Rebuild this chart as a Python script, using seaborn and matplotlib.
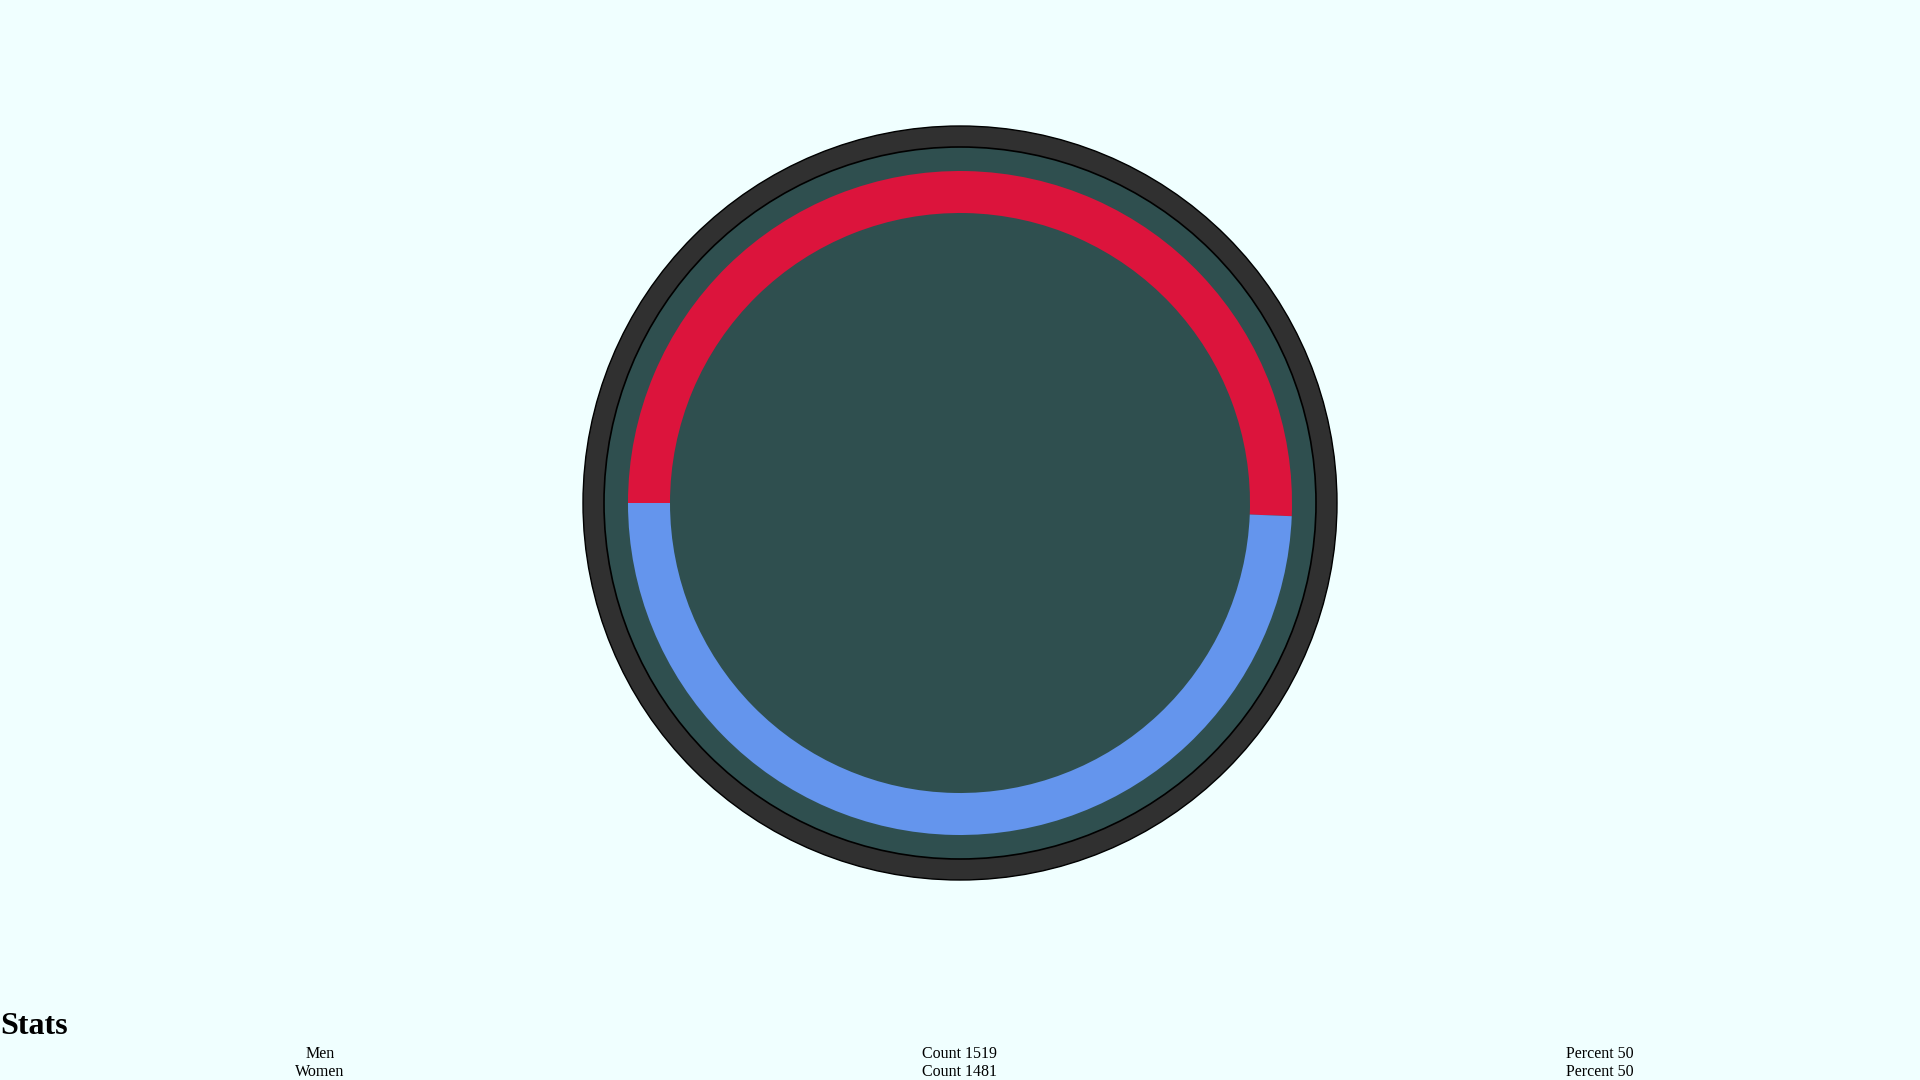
import matplotlib
matplotlib.use("Agg")
import matplotlib.pyplot as plt
import seaborn as sns

# data
labels = ["Men", "Women"]
counts = [1519, 1481]
percents = [50, 50]
colors = ["#DC143C", "#6495ED"]

sns.set_theme(style="white")
plt.rcParams['font.family'] = ['Liberation Serif', 'DejaVu Serif']

W, H = 1920, 1080
fig = plt.figure(figsize=(19.2, 10.8), dpi=100, facecolor="#F0FFFF")
ax = fig.add_axes([0, 0, 1, 1])
ax.set_facecolor("#F0FFFF")

cx, cy = 960, H - 503

# outer dark ring and inner plate
ax.add_patch(plt.Circle((cx, cy), 377, facecolor="#303030",
                        edgecolor="black", linewidth=1, zorder=1))
ax.add_patch(plt.Circle((cx, cy), 356, facecolor="#2F4F4F",
                        edgecolor="black", linewidth=1.2, zorder=2))

# donut
wedges, _ = ax.pie(counts, colors=colors, startangle=180, counterclock=False,
                   center=(cx, cy), radius=332, frame=True,
                   wedgeprops=dict(width=42, linewidth=0))
for w in wedges:
    w.set_zorder(3)
ax.set_xlim(0, W)
ax.set_ylim(0, H)
ax.set_aspect("equal")
ax.axis("off")

# stats table
ax.text(0, H - 1027, "Stats", fontsize=23, fontweight="bold",
        ha="left", va="center", color="black")
row_y = [1054, 1072]
for i, lab in enumerate(labels):
    y = H - row_y[i]
    ax.text(320, y, lab, fontsize=11.5, ha="center", va="center", color="black")
    ax.text(960, y, f"Count {counts[i]}", fontsize=11.5, ha="center",
            va="center", color="black")
    ax.text(1600, y, f"Percent {percents[i]}", fontsize=11.5, ha="center",
            va="center", color="black")

fig.savefig("out.png", dpi=100, facecolor=fig.get_facecolor())
